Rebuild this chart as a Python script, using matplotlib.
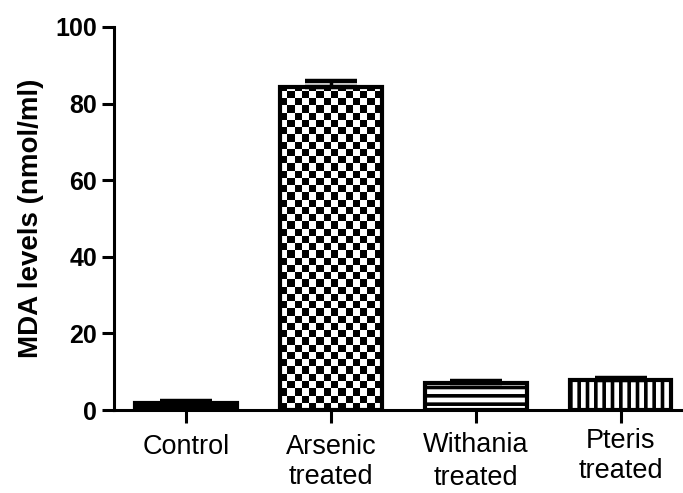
import numpy as np
import matplotlib
matplotlib.use("Agg")
import matplotlib.pyplot as plt

plt.rcParams['font.family'] = ['Liberation Sans', 'DejaVu Sans']
plt.rcParams['hatch.linewidth'] = 2.6

groups = ["Control", "Arsenic\ntreated", "Withania\ntreated", "Pteris\ntreated"]
mda_mean = [1.8, 84.3, 7.0, 7.8]
mda_sem = [0.5, 1.5, 0.7, 0.6]
y_ticks = [0, 20, 40, 60, 80, 100]

# per-label vertical nudge (points) and line spacing of the category names
label_shift = [0.0, 0.5, 1.5, 4.5]
label_spacing = [1.15, 1.2, 1.32, 1.22]

fig = plt.figure(figsize=(6.83, 4.93), dpi=100)
ax = fig.add_axes([114 / 683, 1 - 410 / 493, 1 - 114 / 683, (410 - 27) / 493])

x = np.arange(len(groups))
width = 0.7
lw = 3.0

bars = ax.bar(x, mda_mean, width=width, color="white", edgecolor="black",
              linewidth=lw, zorder=3)
bars[0].set_facecolor("black")
bars[1].set_facecolor("none")
bars[2].set_hatch("--")
bars[3].set_hatch("||")

# checkerboard fill for the arsenic group, clipped to its bar
b = bars[1]
nx = 14
px_per_x = 145.0   # pixels per category step
px_per_y = 3.83    # pixels per nmol/ml
sq_w = width / nx
sq_h = sq_w * px_per_x / px_per_y
ny = int(np.ceil(mda_mean[1] / sq_h))
checker = (np.add.outer(np.arange(ny), np.arange(nx)) % 2).astype(float)
im = ax.imshow(checker, cmap="gray", interpolation="nearest", origin="lower",
               extent=[b.get_x(), b.get_x() + width, 0, ny * sq_h],
               aspect="auto", zorder=2.5)
im.set_clip_path(b)

ax.errorbar(x, mda_mean, yerr=[np.zeros(len(mda_sem)), mda_sem], fmt="none",
            ecolor="black", elinewidth=2.5, capsize=19, capthick=3.2, zorder=4)

ax.set_xlim(-0.497, 3.43)
ax.set_ylim(0, 100)
ax.set_yticks(y_ticks)
ax.set_yticklabels([str(t) for t in y_ticks], fontsize=18, fontweight="bold")
ax.set_xticks(x)
ax.set_xticklabels([])

tick_len = 9.5
for i, name in enumerate(groups):
    ax.annotate(name, xy=(x[i], 0), xycoords=("data", "axes fraction"),
                xytext=(0, -(tick_len + 8) + label_shift[i]),
                textcoords="offset points", ha="center", va="top",
                fontsize=19.5, linespacing=label_spacing[i],
                annotation_clip=False)

ax.set_ylabel("MDA levels (nmol/ml)", fontsize=20, fontweight="bold")
ax.yaxis.set_label_coords(-0.123, 0.5)

for side in ("top", "right"):
    ax.spines[side].set_visible(False)
for side in ("left", "bottom"):
    ax.spines[side].set_linewidth(2.2)
ax.tick_params(axis="y", length=9, width=2.2, pad=3)
ax.tick_params(axis="x", length=tick_len, width=2.2)

fig.savefig("out.png", dpi=100)
